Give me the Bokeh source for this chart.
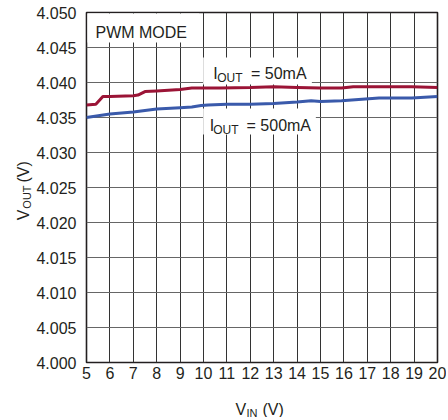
import math
from bokeh.plotting import figure
from bokeh.layouts import column, row
from bokeh.models import FixedTicker, Label, BoxAnnotation, Range1d
from bokeh.embed import file_html
from bokeh.resources import INLINE

# ---- data ----
vin_50 = [5.0, 5.4, 5.7, 6.0, 7.0, 7.2, 7.5, 8.0, 9.0, 9.5, 10.0, 10.7, 12.0,
          13.0, 14.0, 15.0, 15.9, 16.4, 17.5, 18.9, 20.0]
vout_50 = [4.0368, 4.0369, 4.0380, 4.0380, 4.0381, 4.0382, 4.0387, 4.0388,
           4.0390, 4.0392, 4.0392, 4.0392, 4.0393, 4.0394, 4.0393, 4.0392,
           4.0392, 4.0394, 4.0394, 4.0394, 4.0393]
vin_500 = [5.0, 6.0, 7.0, 8.0, 9.0, 9.5, 9.9, 10.2, 11.0, 12.0, 13.0, 14.0,
           14.6, 15.0, 15.9, 17.5, 18.9, 20.0]
vout_500 = [4.0350, 4.0355, 4.0358, 4.0362, 4.0364, 4.0365, 4.0367, 4.0368,
            4.0369, 4.0369, 4.0370, 4.0372, 4.0374, 4.0373, 4.0374, 4.0378,
            4.0378, 4.0380]
x_ticks = list(range(5, 21))
y_ticks = [4.000, 4.005, 4.010, 4.015, 4.020, 4.025, 4.030, 4.035, 4.040, 4.045, 4.050]
y_tick_labels = ["4.000", "4.005", "4.010", "4.015", "4.020", "4.025",
                 "4.030", "4.035", "4.040", "4.045", "4.050"]

FONT = "Liberation Sans"
TXT = "#231f20"
RED = "#9b1436"
BLUE = "#3a5aab"

X0, X1 = 5, 20
Y0, Y1 = 4.000, 4.050
OFFX, OFFY = 2, 1            # observed page offset of the root
TB = -3                      # text baseline correction (px)
# frame placement on the page (px)
FL, FT, FW, FH = 87, 13, 352, 350
YLAB_W = 35 - OFFX
PAGE_W = 448
MAIN_H = 390 - OFFY
XLAB_H = 28


def dx(px):
    return X0 + (px - FL) * (X1 - X0) / FW


def dy(py):
    return Y1 - (py - FT) * (Y1 - Y0) / FH


main_w = PAGE_W - OFFX - YLAB_W
p = figure(width=main_w, height=MAIN_H, output_backend="svg",
           toolbar_location=None,
           x_range=Range1d(X0, X1), y_range=Range1d(Y0, Y1),
           min_border_left=FL - OFFX - YLAB_W,
           min_border_right=PAGE_W - FL - FW,
           min_border_top=FT - OFFY,
           min_border_bottom=MAIN_H - (FT - OFFY) - FH)
p.background_fill_color = "white"
p.border_fill_color = "white"
p.outline_line_color = TXT
p.outline_line_width = 1.6

for ax in (p.xaxis, p.yaxis):
    ax.axis_line_color = None
    ax.major_tick_line_color = None
    ax.minor_tick_line_color = None
    ax.major_tick_out = 0
    ax.major_tick_in = 0
    ax.major_label_text_font = FONT
    ax.major_label_text_font_size = "16px"
    ax.major_label_text_color = TXT

p.xaxis.ticker = FixedTicker(ticks=x_ticks)
p.yaxis.ticker = FixedTicker(ticks=y_ticks)
p.yaxis.major_label_overrides = {t: l for t, l in zip(y_ticks, y_tick_labels)}
p.xaxis.major_label_standoff = 4
p.yaxis.major_label_standoff = 10

p.xgrid.grid_line_color = "#333333"
p.ygrid.grid_line_color = "#666666"
for g in (p.xgrid, p.ygrid):
    g.grid_line_width = 1
    g.level = "image"
p.xgrid.ticker = FixedTicker(ticks=x_ticks)
p.ygrid.ticker = FixedTicker(ticks=y_ticks)

# white knock-out boxes behind the texts inside the plot
for (l, r, t, b) in [(88, 200, 14, 43), (204, 313, 58, 85), (204, 317, 109, 135)]:
    p.add_layout(BoxAnnotation(left=dx(l), right=dx(r), top=dy(t), bottom=dy(b),
                               fill_color="white", fill_alpha=1, line_color=None,
                               level="underlay"))

p.line(vin_50, vout_50, line_color=RED, line_width=3)
p.line(vin_500, vout_500, line_color=BLUE, line_width=3)


def lab(fig, x, y, text, size="16px", angle=0):
    fig.add_layout(Label(x=x, y=y, text=text, text_font=FONT,
                         text_font_size=size, text_color=TXT,
                         text_baseline="alphabetic", text_align="left",
                         angle=angle))


def mlab(px, py, text, size="16px"):
    lab(p, dx(px), dy(py + TB), text, size)


mlab(96, 36, "PWM MODE")
# I_OUT = 50mA
mlab(214, 77, "I")
mlab(218, 81, "OUT", "12px")
mlab(252, 77, "= 50mA")
# I_OUT = 500mA
mlab(210.5, 129, "I")
mlab(214, 133, "OUT", "12px")
mlab(247.5, 129, "= 500mA")


def side_fig(w, h):
    f = figure(width=w, height=h, output_backend="svg", toolbar_location=None,
               x_range=Range1d(0, w), y_range=Range1d(h, 0),
               x_axis_type=None, y_axis_type=None,
               min_border_left=0, min_border_right=0,
               min_border_top=0, min_border_bottom=0)
    f.outline_line_color = None
    f.grid.visible = False
    f.background_fill_color = "white"
    f.border_fill_color = "white"
    return f


# y axis title  V_OUT (V)  (rotated); coordinates = page px minus offsets
RSH = 10                     # along-text correction for rotated labels
yl = side_fig(YLAB_W, MAIN_H)
lab(yl, 25 - OFFX, 222 + RSH - OFFY, "V", angle=math.pi / 2)
lab(yl, 28 - OFFX, 209 + RSH - OFFY, "OUT", "11px", angle=math.pi / 2)
lab(yl, 25 - OFFX, 180 + RSH - OFFY, "(V)", angle=math.pi / 2)

# x axis title  V_IN (V)
xl = side_fig(PAGE_W - OFFX, XLAB_H)
lab(xl, 237 - OFFX, 414 - 4 - OFFY - MAIN_H, "V")
lab(xl, 248 - OFFX, 417 - 4 - OFFY - MAIN_H, "IN", "11px")
lab(xl, 264 - OFFX, 414 - 4 - OFFY - MAIN_H, "(V)")

layout = column(row(yl, p, spacing=0), xl, spacing=0)
open("out.html", "w").write(file_html(layout, INLINE))
